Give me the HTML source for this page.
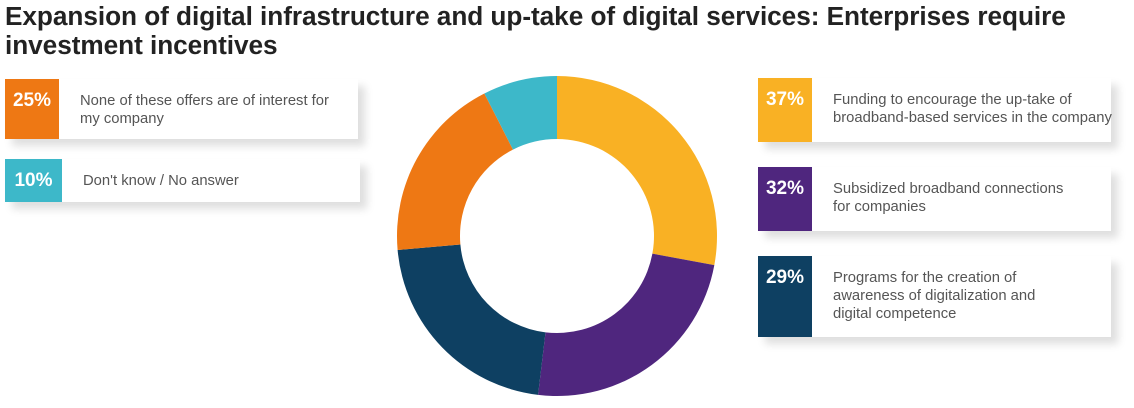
<!DOCTYPE html>
<html><head><meta charset="utf-8"><style>
body{margin:0;width:1134px;height:408px;background:#fff;overflow:hidden;font-family:"Liberation Sans",sans-serif;position:relative}
h1{position:absolute;left:5px;top:2px;margin:0;font-size:26.2px;line-height:29px;font-weight:bold;color:#222;letter-spacing:-0.05px;white-space:nowrap}
.b{position:absolute;background:#fff;box-shadow:7px 7px 8px rgba(0,0,0,0.13)}
.p{position:absolute;left:0;top:0;bottom:0;width:54px;color:#fff;font-weight:bold;font-size:19px;text-align:center;padding-top:11px;box-sizing:border-box}
.t{position:absolute;top:13px;font-size:14.8px;line-height:18px;color:#555;white-space:nowrap}
</style></head><body>
<h1>Expansion of digital infrastructure and up-take of digital services: Enterprises require<br>investment incentives</h1>
<div class="b" style="left:5px;top:79px;width:353px;height:60px"><div class="p" style="background:#ee7814">25%</div><div class="t" style="left:75px">None of these offers are of interest for<br>my company</div></div>
<div class="b" style="left:5px;top:159px;width:355px;height:43px"><div class="p" style="background:#3db8c9;width:57px">10%</div><div class="t" style="left:78px">Don't know / No answer</div></div>
<div class="b" style="left:758px;top:78px;width:353px;height:64px"><div class="p" style="background:#f9b124">37%</div><div class="t" style="left:75px">Funding to encourage the up-take of<br>broadband-based services in the company</div></div>
<div class="b" style="left:758px;top:167px;width:353px;height:64px"><div class="p" style="background:#4f267e">32%</div><div class="t" style="left:75px">Subsidized broadband connections<br>for companies</div></div>
<div class="b" style="left:758px;top:256px;width:353px;height:81px"><div class="p" style="background:#0e4062">29%</div><div class="t" style="left:75px">Programs for the creation of<br>awareness of digitalization and<br>digital competence</div></div>
<svg width="1134" height="408" style="position:absolute;left:0;top:0">
<g id="d"></g>
</svg>
<script>
var cx=557,cy=236,R=160,r=97,g=document.getElementById('d');
var s=[[0,100.5,'#f9b124'],[100.5,186.8,'#4f267e'],[186.8,265,'#0e4062'],[265,333,'#ee7814'],[333,360,'#3db8c9']];
function pt(a,rr){a=a*Math.PI/180;return [cx+rr*Math.sin(a),cy-rr*Math.cos(a)];}
s.forEach(function(q){var a=pt(q[0],R),b=pt(q[1],R),c=pt(q[1],r),d=pt(q[0],r);var l=(q[1]-q[0])>180?1:0;
var p=document.createElementNS('http://www.w3.org/2000/svg','path');
p.setAttribute('d','M'+a+' A'+R+' '+R+' 0 '+l+' 1 '+b+' L'+c+' A'+r+' '+r+' 0 '+l+' 0 '+d+'Z');
p.setAttribute('fill',q[2]);g.appendChild(p);});
</script>
</body></html>
